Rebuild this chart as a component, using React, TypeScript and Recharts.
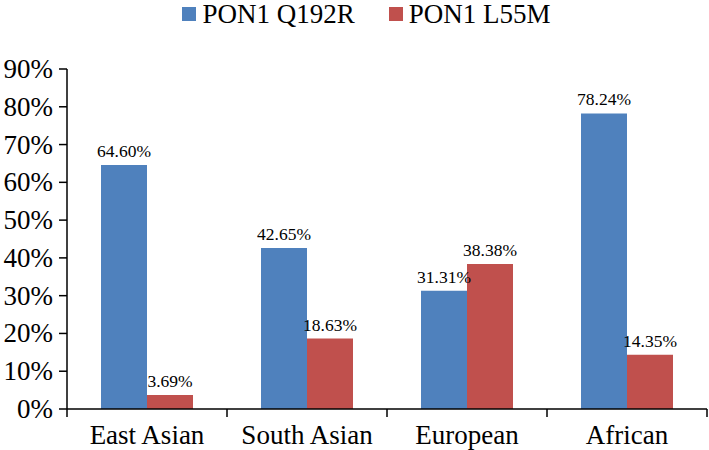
import React from 'react';
import { BarChart, Bar, XAxis, YAxis, Legend, LabelList } from 'recharts';

const categories = ['East Asian', 'South Asian', 'European', 'African'];
const q192r = [64.6, 42.65, 31.31, 78.24];
const l55m = [3.69, 18.63, 38.38, 14.35];
const yTicks = [0, 10, 20, 30, 40, 50, 60, 70, 80, 90];
const seriesNames = ['PON1 Q192R', 'PON1 L55M'];
const seriesColors = ['#4F81BD', '#C0504D'];

const data = categories.map((name, i) => ({ name, q192r: q192r[i], l55m: l55m[i] }));

const FONT = 'Liberation Serif';

// category label plus a tick mark on the right edge of each band
const CategoryTick = (props: any) => {
  const { x, y, payload, index } = props;
  return (
    <g>
      {index === 0 && <line x1={x - 80} y1={y - 8} x2={x - 80} y2={y} stroke="#000" strokeWidth={1.5} />}
      <line x1={x + 80} y1={y - 8} x2={x + 80} y2={y} stroke="#000" strokeWidth={1.5} />
      <text x={x} y={y + 27} textAnchor="middle" fontFamily={FONT} fontSize={27} fill="#000">
        {payload.value}
      </text>
    </g>
  );
};

const PercentTick = (props: any) => {
  const { x, y, payload } = props;
  return (
    <text x={x} y={y + 9} textAnchor="end" fontFamily={FONT} fontSize={27} fill="#000">
      {`${payload.value}%`}
    </text>
  );
};

// value label above each bar
const ValueLabel = (props: any) => {
  const { x, y, width, value } = props;
  return (
    <text x={x + width / 2} y={y - 8} textAnchor="middle" fontFamily={FONT} fontSize={17.5} fill="#000">
      {`${Number(value).toFixed(2)}%`}
    </text>
  );
};

const LegendContent = () => (
  <div style={{ display: 'flex', justifyContent: 'center', fontFamily: FONT, fontSize: 27, lineHeight: '28px', color: '#000' }}>
    {seriesNames.map((n, i) => (
      <div key={n} style={{ display: 'flex', alignItems: 'center', marginLeft: i ? 34 : 0 }}>
        <span style={{ display: 'inline-block', width: 14, height: 14, background: seriesColors[i], marginRight: 6 }} />
        <span>{n}</span>
      </div>
    ))}
  </div>
);

const App: React.FC = () => {
  return (
    <div style={{ width: 709, height: 450, fontFamily: FONT }}>
      <style>{'body{margin:0;background:#fff}'}</style>
      <BarChart
        width={709}
        height={450}
        data={data}
        margin={{ top: 41, right: 2, left: 0, bottom: 0 }}
        barCategoryGap={34}
        barGap={0}
      >
        <Legend verticalAlign="top" content={<LegendContent />} wrapperStyle={{ top: 0, left: 12, width: 709 }} />
        <XAxis
          dataKey="name"
          axisLine={{ stroke: '#000', strokeWidth: 1.5 }}
          tickLine={false}
          tick={<CategoryTick />}
          height={41}
          interval={0}
        />
        <YAxis
          domain={[0, 90]}
          ticks={yTicks}
          width={67}
          axisLine={{ stroke: '#000', strokeWidth: 1.5 }}
          tickLine={{ stroke: '#000', strokeWidth: 1.5 }}
          tickSize={8}
          tickMargin={6}
          tick={<PercentTick />}
          interval={0}
        />
        <Bar dataKey="q192r" name={seriesNames[0]} fill={seriesColors[0]} isAnimationActive={false}>
          <LabelList dataKey="q192r" content={<ValueLabel />} />
        </Bar>
        <Bar dataKey="l55m" name={seriesNames[1]} fill={seriesColors[1]} isAnimationActive={false}>
          <LabelList dataKey="l55m" content={<ValueLabel />} />
        </Bar>
      </BarChart>
    </div>
  );
};

export default App;
